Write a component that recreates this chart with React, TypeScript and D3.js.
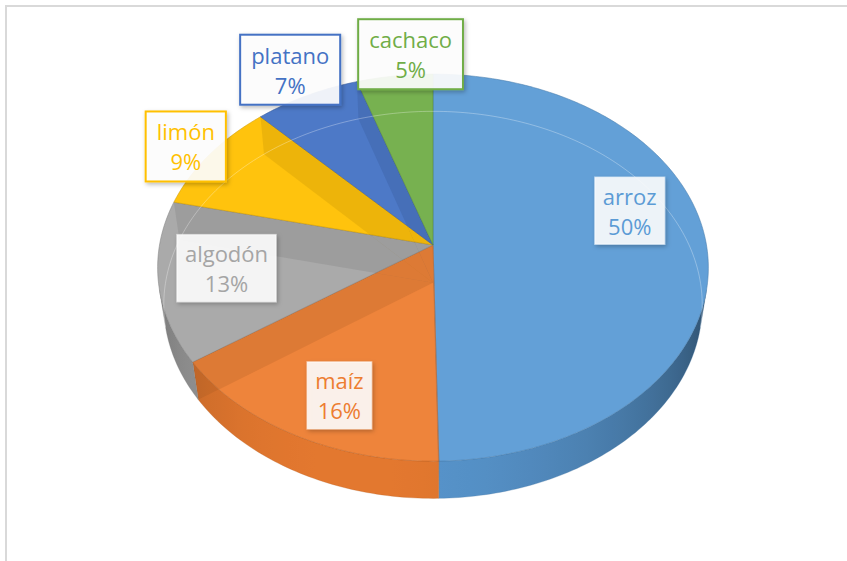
import * as React from "react"
import * as d3 from "d3"

// ---- data ----
const categories = ["arroz", "maíz", "algodón", "limón", "platano", "cachaco"]
const shares = [49.7, 15.6, 13.4, 9.3, 7.0, 5.0]
const colors = ["#5B9BD5", "#ED7D31", "#A5A5A5", "#FFC000", "#4472C4", "#70AD47"]

// label placement: radius on the pie (1 = rim) plus a pixel nudge
const labelRadius = [0.72, 0.72, 0.72, 1.18, 1.18, 1.18]
const labelNudge: [number, number][] = [[0, -33], [3, 18], [-10, -3], [14, 7], [4, -2], [22, 5]]
const labelOutside = [false, false, false, true, true, true]

const W = 847
const H = 561
const FONT = "'Open Sans', 'DejaVu Sans', sans-serif"
const FONT_SIZE = 22

// 3d view of the pie (unit radius, perspective camera)
const CX = 433
const CY = 245
const FOCAL = 1675
const DIST = 6.125
const SIN_T = 0.698
const COS_T = Math.sqrt(1 - SIN_T * SIN_T)
const THICK = 0.197
const DEG = Math.PI / 180
// outer wall faces the camera between these angles
const FRONT = Math.acos(-1 / (DIST * COS_T))
const FRONT_END = 2 * Math.PI - FRONT

type Pt = [number, number]

function project(r: number, a: number, y: number): [number, number, number] {
    const x = r * Math.sin(a)
    const z = r * Math.cos(a)
    const yc = y * COS_T + z * SIN_T
    const zc = DIST + z * COS_T - y * SIN_T
    return [CX + FOCAL * x / zc, CY - FOCAL * yc / zc, zc]
}

const pt = (r: number, a: number, y: number): Pt => {
    const p = project(r, a, y)
    return [p[0], p[1]]
}

function rim(a0: number, a1: number, y: number): Pt[] {
    const n = Math.max(2, Math.ceil((a1 - a0) / DEG))
    return d3.range(n + 1).map(i => pt(1, a0 + (a1 - a0) * i / n, y))
}

const line = d3.line<Pt>()
const closed = (pts: Pt[]): string => line(pts) + "Z"

function wallShade(base: string, a: number): string {
    const k = 0.52 + 0.44 * Math.max(0, Math.cos(a - 195 * DEG))
    return d3.interpolateRgb("#000", base)(k)
}

let ctx: CanvasRenderingContext2D | null = null
function textWidth(s: string): number {
    if (!ctx) ctx = document.createElement("canvas").getContext("2d")
    if (!ctx) return s.length * FONT_SIZE * 0.55
    ctx.font = `${FONT_SIZE}px ${FONT}`
    return ctx.measureText(s).width
}

const App = () => {
    const pie = d3.pie<number>().sort(null).value(d => d)
    const arcs = pie(shares)
    const total = d3.sum(shares)
    const pct = d3.format(".0%")

    // front walls, one path per slice with a shading gradient along x
    const walls = arcs.map((s, i) => {
        const a0 = Math.max(s.startAngle, FRONT)
        const a1 = Math.min(s.endAngle, FRONT_END)
        if (a1 <= a0) return null
        const x0 = pt(1, a0, 0)[0]
        const x1 = pt(1, a1, 0)[0]
        const n = Math.max(2, Math.ceil((a1 - a0) / (3 * DEG)))
        const stops = d3.range(n + 1).map(k => {
            const a = a0 + (a1 - a0) * k / n
            return { offset: (pt(1, a, 0)[0] - x0) / (x1 - x0), color: wallShade(colors[i], a) }
        })
        return {
            d: closed([...rim(a0, a1, 0), ...rim(a0, a1, -THICK).reverse()]),
            x0, x1, stops, i,
        }
    })

    const center: Pt = pt(0, 0, 0)
    const centerLow: Pt = pt(0, 0, -THICK)

    const tops = arcs.map(s => closed([center, ...rim(s.startAngle, s.endAngle, 0)]))
    const silhouettes = arcs.map(s =>
        closed([center, ...rim(s.startAngle, s.endAngle, 0)]) +
        closed([centerLow, ...rim(s.startAngle, s.endAngle, -THICK)]) +
        closed([...rim(s.startAngle, s.endAngle, 0), ...rim(s.startAngle, s.endAngle, -THICK).reverse()]))

    // the cut face at the end of each slice, seen through the top
    const cuts = arcs.map(s => closed([center, pt(1, s.endAngle, 0), pt(1, s.endAngle, -THICK), centerLow]))

    // bottom rim seen through the top at the back
    const backRim = line(rim(FRONT_END - 2 * Math.PI, FRONT, -THICK))

    const labels = arcs.map((s, i) => {
        const mid = (s.startAngle + s.endAngle) / 2
        const p = pt(labelRadius[i], mid, 0)
        const x = p[0] + labelNudge[i][0]
        const y = p[1] + labelNudge[i][1]
        const l1 = categories[i]
        const l2 = pct(shares[i] / total)
        const pad = labelOutside[i] ? 11 : 8
        const w = Math.max(textWidth(l1), textWidth(l2)) + pad * 2
        const h = labelOutside[i] ? 70 : 67
        return { x, y, l1, l2, w, h, i }
    })

    return (
        <svg width={W} height={H} style={{ position: "absolute", left: 0, top: 0, background: "#fff" }}>
            <defs>
                <filter id="shadow" x="-20%" y="-20%" width="150%" height="150%">
                    <feDropShadow dx="1.5" dy="2" stdDeviation="2" floodColor="#000" floodOpacity="0.28" />
                </filter>
                {silhouettes.map((d, i) => (
                    <clipPath id={`slice-${i}`} key={i}>
                        <path d={d} />
                    </clipPath>
                ))}
                {walls.map(w => w && (
                    <linearGradient id={`wall-${w.i}`} key={w.i} gradientUnits="userSpaceOnUse"
                        x1={w.x0} x2={w.x1} y1={0} y2={0}>
                        {w.stops.map((st, k) => (
                            <stop key={k} offset={st.offset} stopColor={st.color} />
                        ))}
                    </linearGradient>
                ))}
            </defs>
            <rect x={6} y={6} width={W + 20} height={H + 20} fill="#fff" stroke="#D9D9D9" strokeWidth={2} />

            <g className="walls">
                {walls.map(w => w && (
                    <path key={w.i} d={w.d} fill={`url(#wall-${w.i})`}
                        stroke={d3.color(colors[w.i])!.darker(0.8).toString()}
                        strokeOpacity={0.35} strokeWidth={0.8} />
                ))}
            </g>

            <g className="tops">
                {tops.map((d, i) => (
                    <path key={i} d={d}
                        fill={d3.interpolateRgb(colors[i], "#fff")(0.05)}
                        stroke={d3.color(colors[i])!.darker(0.6).toString()}
                        strokeOpacity={0.7}
                        strokeWidth={0.8} />
                ))}
            </g>

            <g className="see-through">
                {cuts.map((d, i) => (
                    <path key={i} d={d} clipPath={`url(#slice-${i})`}
                        fill={d3.interpolateRgb(colors[i], "#000")(0.4)}
                        fillOpacity={0.18} />
                ))}
                <path d={backRim || ""} fill="none" stroke="#fff" strokeOpacity={0.3} strokeWidth={1} />
            </g>

            <g className="labels" fontFamily={FONT} fontSize={FONT_SIZE} textAnchor="middle">
                {labels.map(l => (
                    <g key={l.i} transform={`translate(${l.x},${l.y})`}>
                        <rect x={-l.w / 2} y={-l.h / 2} width={l.w} height={l.h}
                            fill="#fff" fillOpacity={labelOutside[l.i] ? 0.9 : 0.88}
                            stroke={labelOutside[l.i] ? colors[l.i] : "#fff"}
                            strokeOpacity={labelOutside[l.i] ? 1 : 0.5}
                            strokeWidth={labelOutside[l.i] ? 2 : 1.5}
                            filter="url(#shadow)" />
                        <text y={-6} fill={colors[l.i]}>{l.l1}</text>
                        <text y={24} fill={colors[l.i]}>{l.l2}</text>
                    </g>
                ))}
            </g>
        </svg>
    )
}

export default App
